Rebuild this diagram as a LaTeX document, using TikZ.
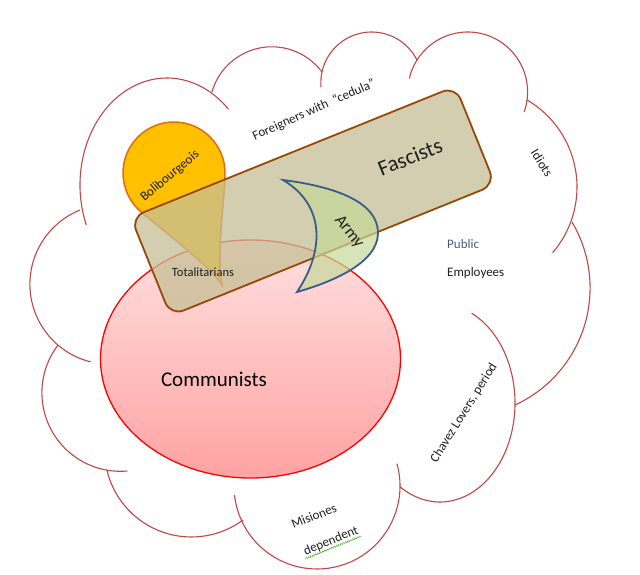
\documentclass[tikz,border=0pt]{standalone}
\usepackage{fontspec}
\setmainfont{Carlito}
\usepackage{tikz}
\usetikzlibrary{decorations.pathmorphing}
\definecolor{cloudred}{RGB}{190,72,70}
\definecolor{commtop}{RGB}{255,224,224}
\definecolor{commbot}{RGB}{255,162,162}
\definecolor{bolifill}{RGB}{255,192,0}
\definecolor{boliedge}{RGB}{228,108,10}
\definecolor{fascfill}{RGB}{198,190,150}
\definecolor{fascedge}{RGB}{152,72,6}
\definecolor{armyfill}{RGB}{198,216,152}
\definecolor{armyedge}{RGB}{56,93,138}
\definecolor{txtdark}{RGB}{30,30,30}
\definecolor{pubblue}{RGB}{80,88,130}
\definecolor{spellgreen}{RGB}{90,180,60}

\begin{document}
\begin{tikzpicture}[x=1pt, y=-1pt,
    cloudline/.style={draw=cloudred, line width=1.1pt},
    lbl/.style={inner sep=1pt, text=txtdark, font=\fontsize{13}{15}\selectfont}]
    \useasboundingbox (0,0) rectangle (640,574);

    % cloud outline, one arc per bump
    \foreach \cx/\cy/\rx/\ry/\sa/\ea in {
        167/185/87/107/158/315,
        271.9/109.2/62.4/62.4/196/323.4,
        371.6/82.8/50.8/50.8/175/333.3,
        467.7/91.9/59.9/59.9/193/379.3,
        476.3/187/100.7/100.7/300.2/400.7,
        461.2/287.9/128.9/128.9/329.3/425.3,
        440/403/75/99/-65/122,
        317/486/83/83/-15.6/173.7,
        191.4/450.2/86.8/86.8/53.5/166.8,
        120.5/392.7/78.6/78.6/85/217.4,
        109.9/284.2/80/80/104/248}
        \draw[cloudline] (\cx,\cy) ++({\rx*cos(\sa)},{\ry*sin(\sa)}) arc[start angle=\sa, end angle=\ea, x radius=\rx, y radius=\ry];

    % Communists
    \draw[draw=red, line width=1.3pt, top color=commtop, bottom color=commbot] (250.5,359) ellipse [x radius=150, y radius=119];

    % Bolibourgeois drop
    \draw[fill=bolifill, draw=boliedge, line width=1.5pt] (222,285) .. controls (216,250) and (225,200) .. (225,173)
        arc[start angle=0, end angle=-230, radius=51] .. controls (166,233) and (212,268) .. (222,285) -- cycle;

    % Fascists box
    \node[draw=fascedge, line width=1.8pt, fill=fascfill, fill opacity=0.75, rounded corners=14pt,
        minimum width=350pt, minimum height=106pt, rotate=22] (fascbox) at (313,201) {};

    % Army moon
    \draw[fill=armyfill, fill opacity=0.7, draw=armyedge, line width=1.8pt] (283,180) .. controls (338,187) and (378,203) .. (378,233)
        .. controls (378,263) and (332,282) .. (297,292) .. controls (325,250) and (325,205) .. (283,180) -- cycle;

    % labels
    \node[lbl, rotate=24] (foreigners) at (314,110) {Foreigners with\ \ “cedula”};
    \node[lbl, rotate=40] (bolib) at (170,176) {Bolibourgeois};
    \node[lbl, font=\fontsize{22}{24}\selectfont, rotate=22] (fascists) at (410,157) {Fascists};
    \node[lbl, font=\fontsize{17}{19}\selectfont, rotate=-52] (army) at (349,232) {Army};
    \node[lbl, font=\fontsize{12.5}{14}\selectfont] (totalit) at (203,272) {Totalitarians};
    \node[lbl, font=\fontsize{21}{23}\selectfont, text=black] (communists) at (214,379) {Communists};
    \node[lbl, rotate=-58] (idiots) at (542,163) {Idiots};
    \node[lbl, anchor=west, text=pubblue] (public) at (446,244) {Public};
    \node[lbl, anchor=west] (employees) at (446,273) {Employees};
    \node[lbl, rotate=58] (chavez) at (464,413) {Chavez Lovers, period};
    \node[lbl, rotate=22] (misiones) at (314,516) {Misiones};
    \node[lbl, rotate=22] (dependent) at (331,541) {dependent};
    \draw[spellgreen, line width=0.6pt, decorate, decoration={snake, amplitude=0.7pt, segment length=2.5pt}]
        (dependent.south west) -- (dependent.south east);
\end{tikzpicture}
\end{document}
